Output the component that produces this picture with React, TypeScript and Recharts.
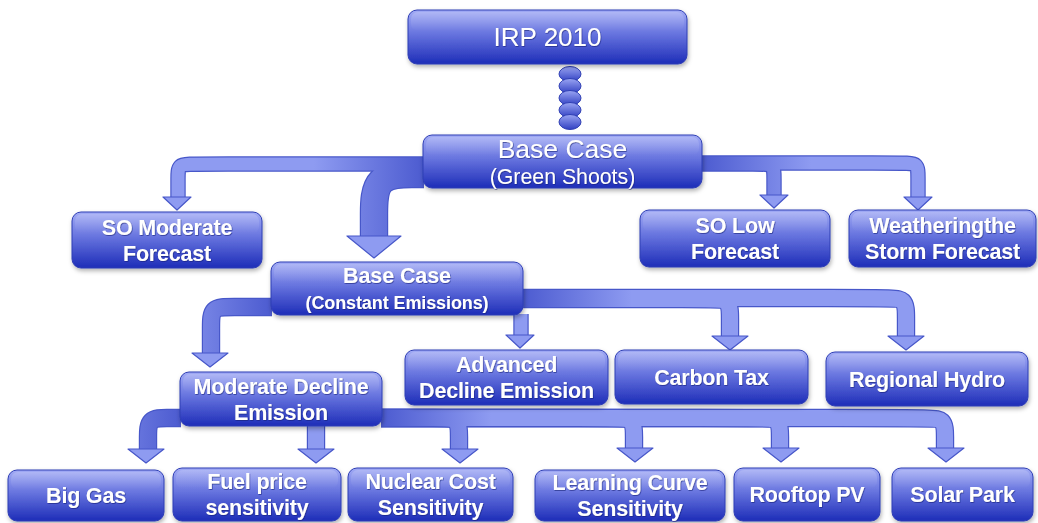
import React from "react";
import { ComposedChart, XAxis, YAxis, Line, Scatter, ReferenceArea } from "recharts";

const W = 1038;
const H = 523;

type Kind = "title" | "lead" | "bold" | "compact";
type Box = { id: string; lines: string[]; x1: number; x2: number; y1: number; y2: number; kind: Kind };
type Weight = "thin" | "mid" | "heavy";
type Arrow = { id: string; pts: [number, number][]; tip: [number, number]; weight: Weight };

// scenario boxes, in diagram units (x left->right, y top->bottom)
const boxes: Box[] = [
  { id: "irp", lines: ["IRP 2010"], x1: 408, x2: 687, y1: 10, y2: 64, kind: "title" },
  { id: "green", lines: ["Base Case", "(Green Shoots)"], x1: 423, x2: 702, y1: 135, y2: 188, kind: "lead" },
  { id: "soMod", lines: ["SO Moderate", "Forecast"], x1: 72, x2: 262, y1: 212, y2: 268, kind: "bold" },
  { id: "soLow", lines: ["SO Low", "Forecast"], x1: 640, x2: 830, y1: 210, y2: 267, kind: "bold" },
  { id: "storm", lines: ["Weatheringthe", "Storm Forecast"], x1: 849, x2: 1036, y1: 210, y2: 267, kind: "bold" },
  { id: "constant", lines: ["Base Case", "(Constant Emissions)"], x1: 271, x2: 523, y1: 262, y2: 315, kind: "compact" },
  { id: "advanced", lines: ["Advanced", "Decline Emission"], x1: 405, x2: 608, y1: 350, y2: 405, kind: "bold" },
  { id: "carbon", lines: ["Carbon Tax"], x1: 615, x2: 808, y1: 350, y2: 404, kind: "bold" },
  { id: "hydro", lines: ["Regional Hydro"], x1: 826, x2: 1028, y1: 352, y2: 406, kind: "bold" },
  { id: "moderate", lines: ["Moderate Decline", "Emission"], x1: 180, x2: 382, y1: 372, y2: 426, kind: "bold" },
  { id: "gas", lines: ["Big Gas"], x1: 8, x2: 164, y1: 470, y2: 521, kind: "bold" },
  { id: "fuel", lines: ["Fuel price", "sensitivity"], x1: 173, x2: 341, y1: 468, y2: 521, kind: "bold" },
  { id: "nuclear", lines: ["Nuclear Cost", "Sensitivity"], x1: 348, x2: 513, y1: 468, y2: 521, kind: "bold" },
  { id: "learning", lines: ["Learning Curve", "Sensitivity"], x1: 535, x2: 725, y1: 470, y2: 521, kind: "bold" },
  { id: "rooftop", lines: ["Rooftop PV"], x1: 734, x2: 880, y1: 468, y2: 521, kind: "bold" },
  { id: "solar", lines: ["Solar Park"], x1: 892, x2: 1033, y1: 468, y2: 521, kind: "bold" },
];

// connector arrows: centre line of the band (starting at the parent box edge), and where the head points
const arrows: Arrow[] = [
  { id: "a1", pts: [[424, 164], [178, 164], [178, 199]], tip: [177, 210], weight: "thin" },
  { id: "a2", pts: [[424, 174], [374, 174], [374, 238]], tip: [374, 258], weight: "heavy" },
  { id: "a3", pts: [[701, 164], [774, 164], [774, 197]], tip: [774, 208], weight: "thin" },
  { id: "a4", pts: [[701, 163], [918, 163], [918, 199]], tip: [918, 210], weight: "thin" },
  { id: "b1", pts: [[272, 307], [211, 307], [211, 354]], tip: [210, 367], weight: "mid" },
  { id: "b2", pts: [[521, 314], [521, 338]], tip: [520, 348], weight: "thin" },
  { id: "b3", pts: [[522, 299], [730, 299], [730, 339]], tip: [730, 350], weight: "mid" },
  { id: "b4", pts: [[522, 298], [906, 298], [906, 339]], tip: [906, 350], weight: "mid" },
  { id: "c1", pts: [[181, 418], [148, 418], [148, 452]], tip: [146, 463], weight: "mid" },
  { id: "c2", pts: [[316, 425], [316, 452]], tip: [316, 463], weight: "mid" },
  { id: "c3", pts: [[381, 418], [459, 418], [459, 452]], tip: [460, 463], weight: "mid" },
  { id: "c4", pts: [[381, 418], [634, 418], [634, 452]], tip: [635, 462], weight: "mid" },
  { id: "c5", pts: [[381, 418], [780, 418], [780, 452]], tip: [781, 462], weight: "mid" },
  { id: "c6", pts: [[381, 418], [945, 418], [945, 452]], tip: [946, 462], weight: "mid" },
];

// the chain linking IRP 2010 to the base case
const beadX = 570;
const beadY = [74, 86, 98, 110, 122];

const band: Record<Weight, { w: number; headW: number; headH: number; r: number }> = {
  thin: { w: 13, headW: 28, headH: 13, r: 14 },
  mid: { w: 16, headW: 36, headH: 14, r: 20 },
  heavy: { w: 26, headW: 54, headH: 22, r: 44 },
};

// font size and cap-centre offset from the box middle, per line
const text: Record<Kind, { size: number[]; off: number[]; weight: number; spacing: number }> = {
  title: { size: [26], off: [0], weight: 400, spacing: 0 },
  lead: { size: [26.5, 21.3], off: [-13.5, 15], weight: 400, spacing: 0 },
  bold: { size: [21.5, 21.5], off: [-13, 13], weight: 700, spacing: -0.2 },
  compact: { size: [21.5, 18], off: [-13, 14.5], weight: 700, spacing: -0.1 },
};

const FONT = "'Liberation Sans', Arial, sans-serif";
const BAND_FILL = "#8e9bf1";
const BAND_DARK = "#4c5bd0";
const BAND_EDGE = "#4757c9";

// add a point either side of each bend so the basis curve rounds it
function rounded(pts: [number, number][], r: number) {
  const out: { x: number; y: number }[] = [];
  pts.forEach((p, i) => {
    if (i === 0 || i === pts.length - 1) {
      out.push({ x: p[0], y: p[1] });
      return;
    }
    const a = pts[i - 1];
    const b = pts[i + 1];
    const d1 = Math.hypot(p[0] - a[0], p[1] - a[1]);
    const d2 = Math.hypot(b[0] - p[0], b[1] - p[1]);
    out.push({ x: p[0] + ((a[0] - p[0]) / d1) * r, y: p[1] + ((a[1] - p[1]) / d1) * r });
    out.push({ x: p[0], y: p[1] });
    out.push({ x: p[0] + ((b[0] - p[0]) / d2) * r, y: p[1] + ((b[1] - p[1]) / d2) * r });
  });
  return out;
}

const heads = arrows.map((a) => ({ x: a.tip[0], y: a.tip[1], weight: a.weight }));
const beads = beadY.map((y) => ({ x: beadX, y }));

function BoxShape(props: any) {
  const { x, y, width, height, box } = props;
  const st = text[box.kind as Kind];
  const cx = x + width / 2;
  const cy = y + height / 2;
  const single = box.lines.length === 1;
  return (
    <g>
      <rect x={x} y={y} width={width} height={height} rx={9} fill="url(#boxFill)" stroke="#2f3fb4" strokeWidth={1} filter="url(#boxShadow)" />
      <rect x={x + 3} y={y + 2} width={width - 6} height={height * 0.35} rx={7} fill="url(#boxGloss)" />
      {box.lines.map((ln: string, i: number) => {
        const size = st.size[i] ?? st.size[0];
        const mid = cy + (single ? 0 : st.off[i]);
        return (
          <text
            key={i}
            x={cx}
            y={mid + size * 0.36}
            textAnchor="middle"
            fontFamily={FONT}
            fontSize={size}
            fontWeight={st.weight}
            letterSpacing={st.spacing}
            fill="#ffffff"
            filter="url(#textShadow)"
          >
            {ln}
          </text>
        );
      })}
    </g>
  );
}

function Head(props: any) {
  const { cx, cy } = props;
  const wt: Weight = props.payload?.weight ?? props.weight ?? "thin";
  const b = band[wt];
  const pts = `${cx - b.headW / 2},${cy - b.headH} ${cx + b.headW / 2},${cy - b.headH} ${cx},${cy}`;
  return <polygon points={pts} fill={BAND_FILL} stroke={BAND_EDGE} strokeWidth={1.2} strokeLinejoin="round" />;
}

function Bead(props: any) {
  const { cx, cy } = props;
  return <ellipse cx={cx} cy={cy} rx={11} ry={7.5} fill="url(#beadFill)" stroke="#2f3fb4" strokeWidth={1} />;
}

// horizontal-leaving bands are darker next to their parent box
function bandStroke(a: Arrow) {
  const [p0, p1] = a.pts;
  return p0[1] === p1[1] ? `url(#g-${a.id})` : BAND_FILL;
}

export default function App() {
  return (
    <div style={{ position: "absolute", left: 0, top: 0, width: W, height: H, background: "#fff" }}>
      <svg width={0} height={0} style={{ position: "absolute" }}>
        <defs>
          <linearGradient id="boxFill" x1="0" y1="0" x2="0" y2="1">
            <stop offset="0" stopColor="#a2abf5" />
            <stop offset="0.45" stopColor="#6673de" />
            <stop offset="1" stopColor="#1d2db8" />
          </linearGradient>
          <linearGradient id="boxGloss" x1="0" y1="0" x2="0" y2="1">
            <stop offset="0" stopColor="#ffffff" stopOpacity={0.18} />
            <stop offset="1" stopColor="#ffffff" stopOpacity={0} />
          </linearGradient>
          <linearGradient id="beadFill" x1="0" y1="0" x2="0" y2="1">
            <stop offset="0" stopColor="#9aa5f3" />
            <stop offset="1" stopColor="#3140c2" />
          </linearGradient>
          {arrows.map((a) => {
            const [p0, p1] = a.pts;
            const dir = Math.sign(p1[0] - p0[0]) || 1;
            return (
              <linearGradient key={a.id} id={`g-${a.id}`} gradientUnits="userSpaceOnUse" x1={p0[0]} y1={0} x2={p0[0] + dir * 110} y2={0}>
                <stop offset="0" stopColor={BAND_DARK} />
                <stop offset="1" stopColor={BAND_FILL} />
              </linearGradient>
            );
          })}
          <filter id="boxShadow" x="-10%" y="-20%" width="120%" height="150%">
            <feDropShadow dx="1" dy="2.5" stdDeviation="2" floodColor="#000" floodOpacity="0.3" />
          </filter>
          <filter id="textShadow" x="-5%" y="-20%" width="110%" height="150%">
            <feDropShadow dx="0.6" dy="0.8" stdDeviation="0.6" floodColor="#101a70" floodOpacity="0.7" />
          </filter>
        </defs>
      </svg>
      <ComposedChart width={W} height={H} margin={{ top: 0, right: 0, bottom: 0, left: 0 }}>
        <XAxis type="number" dataKey="x" domain={[0, W]} hide allowDataOverflow />
        <YAxis type="number" dataKey="y" domain={[0, H]} reversed hide allowDataOverflow />
        {arrows.map((a) => (
          <Line
            key={a.id + "-edge"}
            data={rounded(a.pts, band[a.weight].r)}
            dataKey="y"
            type="basis"
            stroke={BAND_EDGE}
            strokeWidth={band[a.weight].w + 2.4}
            dot={false}
            activeDot={false}
            isAnimationActive={false}
          />
        ))}
        {arrows.map((a) => (
          <Line
            key={a.id + "-fill"}
            data={rounded(a.pts, band[a.weight].r)}
            dataKey="y"
            type="basis"
            stroke={bandStroke(a)}
            strokeWidth={band[a.weight].w}
            dot={false}
            activeDot={false}
            isAnimationActive={false}
          />
        ))}
        <Scatter data={heads} dataKey="y" shape={(p: any) => <Head {...p} />} isAnimationActive={false} />
        <Scatter data={beads} dataKey="y" shape={(p: any) => <Bead {...p} />} isAnimationActive={false} />
        {boxes.map((b) => (
          <ReferenceArea
            key={b.id}
            x1={b.x1}
            x2={b.x2}
            y1={b.y1}
            y2={b.y2}
            ifOverflow="visible"
            zIndex={2000}
            shape={(p: any) => <BoxShape {...p} box={b} />}
          />
        ))}
      </ComposedChart>
    </div>
  );
}
